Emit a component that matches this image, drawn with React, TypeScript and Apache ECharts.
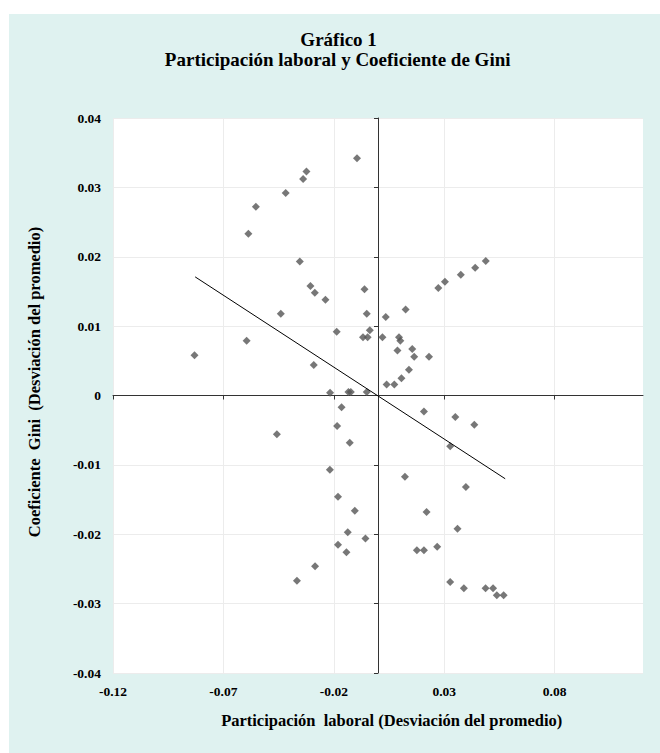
import React, { useEffect, useRef } from "react";
import * as echarts from "echarts";

const titleLine1 = "Gráfico 1";
const titleLine2 = "Participación laboral y Coeficiente de Gini";
const xAxisTitle = "Participación  laboral (Desviación del promedio)";
const yAxisTitle = "Coeficiente  Gini  (Desviación del promedio)";

const xTickValues = [-0.12, -0.07, -0.02, 0.03, 0.08];
const xMin = -0.12;
const xMax = 0.12;
const yMin = -0.04;
const yMax = 0.04;
const yInterval = 0.01;

// Participación laboral (desviación del promedio)
const participacion = [
  -0.0831, -0.0595, -0.0587, -0.0553, -0.0418, -0.0339, -0.0324, -0.0095,
  -0.0354, -0.0306, -0.0286, -0.0238, -0.044, -0.0061, -0.0051, -0.0187,
  -0.0037, -0.0068, -0.0047, -0.0291, -0.0217, -0.0134, -0.0123, -0.0051,
  -0.0165, -0.0185, -0.0458, -0.0128, -0.0218, -0.0181, -0.0105, -0.0137,
  -0.0057, -0.0181, -0.0143, -0.0285, -0.0367,
  0.002, 0.0035, 0.0039, 0.0074, 0.0106, 0.014, 0.0095, 0.0101, 0.0088,
  0.0155, 0.0164, 0.0231, 0.0125, 0.0273, 0.0303, 0.0375, 0.044, 0.0488,
  0.0208, 0.035, 0.0436, 0.0327, 0.0122, 0.0398, 0.022, 0.036, 0.0176,
  0.0208, 0.0268, 0.0327, 0.0389, 0.0487, 0.0521, 0.0538, 0.0569,
];

// Coeficiente Gini (desviación del promedio)
const gini = [
  0.0058, 0.0079, 0.0233, 0.0272, 0.0292, 0.0312, 0.0323, 0.0342,
  0.0193, 0.0158, 0.0148, 0.0138, 0.0118, 0.0153, 0.0118, 0.0092,
  0.0094, 0.0084, 0.0084, 0.0044, 0.0004, 0.0005, 0.0005, 0.0005,
  -0.0017, -0.0044, -0.0056, -0.0068, -0.0107, -0.0146, -0.0166, -0.0197,
  -0.0206, -0.0215, -0.0226, -0.0246, -0.0267,
  0.0084, 0.0113, 0.0016, 0.0016, 0.0025, 0.0037, 0.0084, 0.0079, 0.0065,
  0.0067, 0.0056, 0.0056, 0.0124, 0.0155, 0.0164, 0.0174, 0.0184, 0.0194,
  -0.0023, -0.0031, -0.0042, -0.0073, -0.0117, -0.0132, -0.0168, -0.0192, -0.0223,
  -0.0223, -0.0218, -0.0269, -0.0278, -0.0278, -0.0278, -0.0288, -0.0288,
];

// Línea de tendencia (extremos)
const trendX = [-0.0828, 0.0576];
const trendY = [0.0171, -0.012];

const FONT = "'Liberation Serif', 'Times New Roman', serif";
const BG = "#dff2f0";

export default function App() {
  const ref = useRef<HTMLDivElement>(null);

  useEffect(() => {
    if (!ref.current) return;
    const chart = echarts.init(ref.current, undefined, { renderer: "svg" });
    const fmtY = (v: number) => (Math.abs(v) < 1e-9 ? "0" : v.toFixed(2));
    const fmtX = (v: number) => (Math.abs(v) < 1e-9 ? "0" : v.toFixed(2));
    const points = participacion.map((x, i) => [x, gini[i]]);
    const trend = trendX.map((x, i) => [x, trendY[i]]);
    const labelStyle = {
      fontFamily: FONT,
      fontWeight: "bold" as const,
      fontSize: 13.5,
      color: "#000",
    };

    chart.setOption({
      animation: false,
      backgroundColor: BG,
      grid: {
        left: 104,
        right: 17,
        top: 104,
        bottom: 80,
        show: true,
        backgroundColor: "#ffffff",
        borderWidth: 0,
      },
      xAxis: [
        {
          type: "value",
          min: xMin,
          max: xMax,
          position: "bottom",
          axisLine: { show: false, onZero: false },
          axisTick: { show: false, customValues: xTickValues },
          axisLabel: {
            ...labelStyle,
            customValues: xTickValues,
            margin: 11,
            formatter: fmtX,
          },
          splitLine: { show: true, lineStyle: { color: "#ececec", width: 1 } },
        },
        {
          type: "value",
          min: xMin,
          max: xMax,
          position: "bottom",
          axisLine: { show: true, onZero: true, lineStyle: { color: "#333", width: 1 } },
          axisTick: {
            show: true,
            inside: false,
            length: 4,
            customValues: xTickValues,
            lineStyle: { color: "#333" },
          },
          axisLabel: { show: false, customValues: xTickValues },
          splitLine: { show: false },
        },
      ],
      yAxis: [
        {
          type: "value",
          min: yMin,
          max: yMax,
          interval: yInterval,
          position: "left",
          axisLine: { show: false, onZero: false },
          axisTick: { show: false },
          axisLabel: { ...labelStyle, margin: 12, formatter: fmtY },
          splitLine: { show: true, lineStyle: { color: "#ececec", width: 1 } },
        },
        {
          type: "value",
          min: yMin,
          max: yMax,
          interval: yInterval,
          position: "left",
          axisLine: { show: true, onZero: true, lineStyle: { color: "#333", width: 1 } },
          axisTick: { show: true, inside: false, length: 4, lineStyle: { color: "#333" } },
          axisLabel: { show: false },
          splitLine: { show: false },
        },
      ],
      series: [
        {
          type: "scatter",
          xAxisIndex: 0,
          yAxisIndex: 0,
          symbol: "diamond",
          symbolSize: 8,
          itemStyle: { color: "#555555" },
          data: points,
          z: 3,
        },
        {
          type: "line",
          xAxisIndex: 0,
          yAxisIndex: 0,
          showSymbol: false,
          symbol: "none",
          lineStyle: { color: "#000", width: 1 },
          data: trend,
          z: 4,
        },
      ],
      graphic: [
        {
          type: "text",
          x: 329.6,
          y: 25,
          style: {
            text: titleLine1,
            fontFamily: FONT,
            fontWeight: "bold",
            fontSize: 19,
            fill: "#000",
            align: "center",
            verticalAlign: "middle",
          },
        },
        {
          type: "text",
          x: 328.7,
          y: 45,
          style: {
            text: titleLine2,
            fontFamily: FONT,
            fontWeight: "bold",
            fontSize: 19,
            fill: "#000",
            align: "center",
            verticalAlign: "middle",
          },
        },
        {
          type: "text",
          x: 382.7,
          y: 706.5,
          style: {
            text: xAxisTitle,
            fontFamily: FONT,
            fontWeight: "bold",
            fontSize: 16.5,
            fill: "#000",
            align: "center",
            verticalAlign: "middle",
          },
        },
        {
          type: "text",
          x: 25,
          y: 368,
          rotation: Math.PI / 2,
          style: {
            text: yAxisTitle,
            fontFamily: FONT,
            fontWeight: "bold",
            fontSize: 16.5,
            fill: "#000",
            align: "center",
            verticalAlign: "middle",
          },
        },
      ],
    });
    return () => chart.dispose();
  }, []);

  return (
    <div
      ref={ref}
      style={{
        position: "fixed",
        left: 9,
        top: 14,
        width: 651,
        height: 739,
        background: BG,
      }}
    />
  );
}
